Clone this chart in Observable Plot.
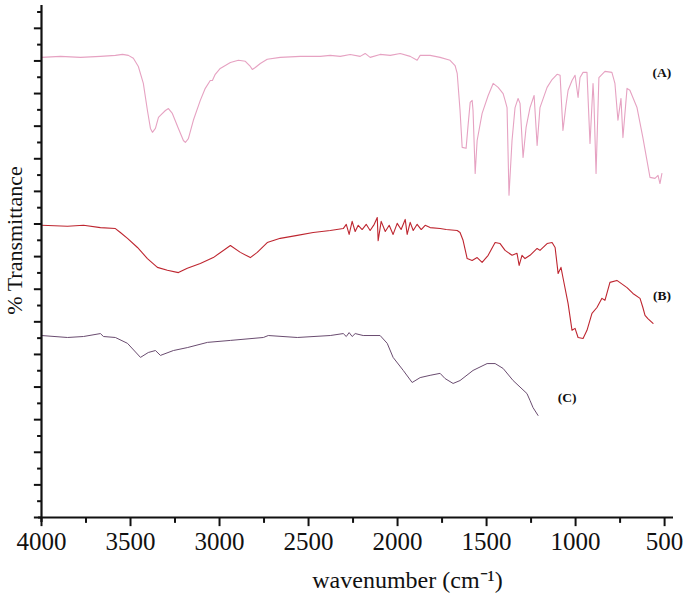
<!DOCTYPE html>
<html><head><meta charset="utf-8">
<script src="https://cdn.jsdelivr.net/npm/d3@7"></script>
<script src="https://cdn.jsdelivr.net/npm/@observablehq/plot@0.6"></script>
<style>body{margin:0;background:#fff}</style>
</head><body><div id="chart"></div>
<script>
// Spectrum (A)
const wnA = [4000,3893,3781,3669,3585,3545,3512,3484,3456,3428,
  3405,3388,3377,3360,3343,3332,3304,3287,3265,3231,
  3203,3192,3175,3147,3108,3080,3052,3040,3024,2996,
  2939,2894,2855,2827,2816,2799,2771,2732,2659,2546,
  2434,2378,2322,2266,2210,2182,2154,2098,2041,1985,
  1929,1890,1873,1817,1761,1705,1677,1665,1649,1637,
  1615,1604,1592,1581,1576,1564,1553,1525,1491,1463,
  1435,1407,1396,1385,1374,1357,1340,1323,1312,1295,
  1278,1256,1233,1216,1200,1160,1132,1104,1087,1071,
  1054,1042,1020,1003,986,975,958,936,919,902,
  897,885,869,835,796,779,762,745,734,711,
  695,655,622,582,554,537,526,515];
const tA = [141.1,141.4,141.1,141.4,141.7,142.0,141.7,140.8,138.3,133.1,
  124.8,119.3,118.1,119.3,122.7,123.3,124.8,125.4,123.9,119.3,
  115.6,115.0,116.2,121.8,127.9,131.6,134.0,134.0,135.9,137.7,
  139.5,140.2,139.9,138.3,137.4,138.0,139.2,140.5,141.1,141.4,
  141.4,141.7,141.4,142.0,141.4,142.3,141.1,142.0,141.7,142.3,
  141.4,140.2,141.7,141.7,141.1,140.2,138.6,136.2,124.8,113.5,
  113.2,120.2,127.3,127.9,124.8,105.5,115.6,123.9,129.4,133.1,
  131.9,130.0,127.9,125.7,98.8,115.6,125.7,128.5,127.0,110.4,
  119.6,125.7,129.4,114.1,125.7,131.9,134.3,135.9,135.6,118.7,
  126.4,131.0,134.0,135.6,128.8,134.9,136.5,136.5,114.7,133.1,
  127.9,105.5,134.9,136.8,136.5,133.1,121.8,128.5,116.5,131.6,
  131.0,125.7,116.5,104.3,104.0,104.9,102.4,105.5];

// Spectrum (B)
const wnB = [4000,3854,3764,3669,3585,3557,3517,3461,3405,3349,
  3293,3231,3181,3108,3035,2939,2883,2827,2788,2732,
  2659,2563,2474,2378,2305,2288,2272,2255,2238,2221,
  2199,2176,2154,2131,2114,2109,2092,2069,2047,2025,
  2002,1980,1957,1946,1929,1912,1890,1867,1845,1817,
  1761,1727,1665,1649,1632,1609,1581,1553,1525,1491,
  1452,1424,1396,1357,1329,1317,1301,1284,1256,1216,
  1200,1160,1132,1115,1098,1082,1071,1042,1020,1003,
  986,958,936,908,880,852,835,807,768,711,
  678,638,622,610,594,565];
const tB = [89.6,89.3,89.6,88.9,88.6,87.4,85.6,82.8,79.4,76.7,
  75.8,75.1,76.4,77.9,79.7,83.4,81.3,79.7,81.3,84.3,
  85.6,86.5,87.4,88.0,88.6,89.9,86.8,90.8,87.7,89.6,
  88.3,89.9,88.0,89.9,92.0,84.9,90.8,87.7,89.6,86.8,
  90.2,88.3,91.4,86.8,90.5,88.0,89.9,88.3,89.6,88.9,
  88.6,88.3,88.0,87.4,85.0,79.4,78.8,79.7,78.2,80.4,
  84.3,84.0,81.9,80.4,81.0,77.3,80.4,79.4,80.4,82.5,
  81.9,84.0,84.3,82.8,74.8,76.7,73.6,65.6,57.4,58.0,
  55.2,54.9,57.4,62.6,64.4,67.2,66.6,72.1,72.7,70.5,
  68.7,67.2,64.4,62.0,61.0,59.5];

// Spectrum (C)
const wnC = [4000,3854,3764,3669,3652,3585,3517,3444,3400,3360,
  3332,3259,3181,3068,2939,2754,2726,2563,2378,2305,
  2288,2272,2255,2238,2193,2098,2058,2025,1968,1918,
  1873,1817,1761,1733,1688,1649,1576,1497,1452,1407,
  1351,1273,1256,1239,1211];
const tC = [55.8,55.2,55.5,56.4,55.5,55.2,53.4,49.1,50.6,51.2,
  49.7,51.2,52.1,53.7,54.3,55.2,55.8,55.2,55.8,56.4,
  55.5,56.7,55.5,56.4,55.8,55.8,53.4,49.1,45.1,41.4,
  42.9,43.6,44.2,42.6,41.1,42.0,45.1,47.2,47.2,45.7,
  42.0,38.0,35.9,33.7,31.3];

// Curve labels
const labels = ["(A)", "(B)", "(C)"];
const labelWn = [515, 515, 1048];
const labelT = [136.5, 68.1, 36.8];

// Axis ticks
const xMajor = [4000, 3500, 3000, 2500, 2000, 1500, 1000, 500];
const xMinor = [3750, 3250, 2750, 2250, 1750, 1250, 750];
const yMajor = d3.range(0, 151, 10);
const yMinor = d3.range(5, 156, 10);

const serif = "'Liberation Serif', 'Times New Roman', Times, serif";

const series = [
  {name: "A", wn: wnA, t: tA, color: "#e6a2c2", w: 1.1},
  {name: "B", wn: wnB, t: tB, color: "#be2630", w: 1.1},
  {name: "C", wn: wnC, t: tC, color: "#6a4c70", w: 1.0}
];

const lineMarks = series.map(s => {
  const rows = s.wn.map((w, i) => ({wn: w, t: s.t[i]}));
  return Plot.line(rows, {x: "wn", y: "t", stroke: s.color, strokeWidth: s.w});
});

const chart = Plot.plot({
  width: 685,
  height: 595,
  marginLeft: 41,
  marginRight: 12,
  marginTop: 5,
  marginBottom: 78,
  x: {domain: [4000, 450], axis: null},
  y: {domain: [0, 157], axis: null},
  style: {fontFamily: serif, background: "#fff", color: "#000"},
  marks: [
    ...lineMarks,
    Plot.ruleX([4000], {y1: -1.5, y2: 157, strokeWidth: 2.2, stroke: "#111"}),
    Plot.ruleY([0], {x1: 4017, x2: 450, strokeWidth: 2.2, stroke: "#111"}),
    Plot.ruleX(xMajor, {x: d => d, y1: 0, y2: -2.8, strokeWidth: 2, stroke: "#111"}),
    Plot.ruleX(xMinor, {x: d => d, y1: 0, y2: -1.8, strokeWidth: 2, stroke: "#111"}),
    Plot.ruleY(yMajor, {y: d => d, x1: 4000, x2: 4040, strokeWidth: 2, stroke: "#111"}),
    Plot.ruleY(yMinor, {y: d => d, x1: 4000, x2: 4022, strokeWidth: 2, stroke: "#111"}),
    Plot.text(xMajor, {x: d => d, y: 0, dy: 24, text: d => String(d), fontSize: 25, fontFamily: serif, fill: "#111"}),
    Plot.text(["wavenumber (cm⁻¹)"], {frameAnchor: "bottom", textAnchor: "middle", lineAnchor: "middle", dx: 50, dy: 63, fontSize: 24, fontFamily: serif, fill: "#111"}),
    Plot.text(["% Transmittance"], {frameAnchor: "left", textAnchor: "middle", lineAnchor: "middle", rotate: -90, dx: -27, dy: -21, fontSize: 22, fontFamily: serif, fill: "#111"}),
    Plot.text(labels, {x: labelWn, y: labelT, fontWeight: "bold", fontSize: 13.5, fontFamily: serif, fill: "#111"})
  ]
});
document.getElementById("chart").append(chart);
</script>
</body></html>
